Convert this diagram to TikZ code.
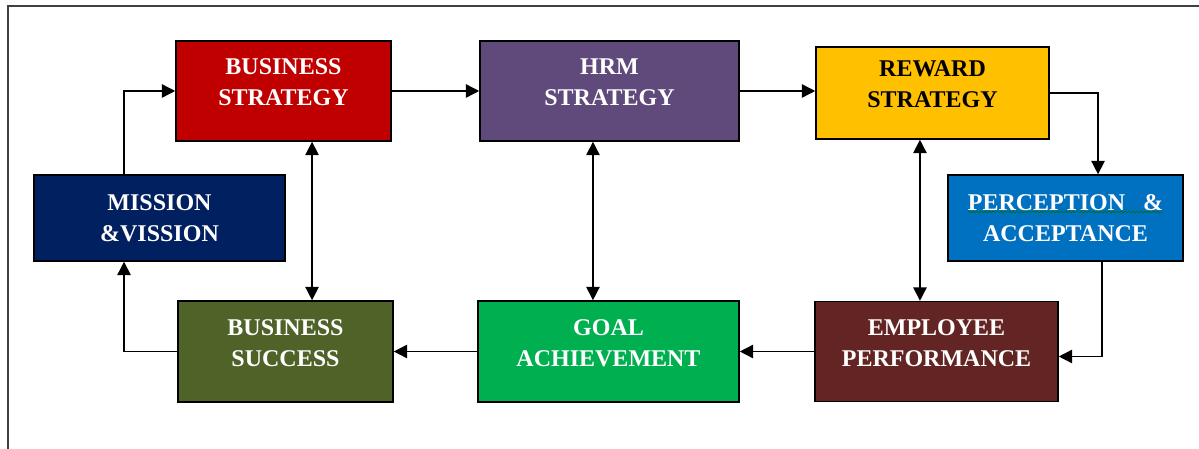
\documentclass[tikz,border=0pt]{standalone}
\usepackage{fontspec}
\setmainfont{Liberation Serif}
\usepackage{tikz}
\usetikzlibrary{arrows.meta,positioning,decorations.pathmorphing}

\tikzset{
  box/.style={draw=black,line width=1.1pt,inner sep=0pt,align=center,text=white,
    font=\fontsize{18}{23}\selectfont\bfseries},
  uptext/.style={text depth=13pt},
  arr/.style={line width=1.1pt,-{Triangle[length=10pt,width=10pt]}},
  dblarr/.style={line width=1.1pt,{Triangle[length=10pt,width=10pt]}-{Triangle[length=10pt,width=10pt]}}
}

\begin{document}
\begin{tikzpicture}[x=0.75pt,y=-0.75pt]
\definecolor{bsred}{HTML}{C00000}
\definecolor{hrmpurple}{HTML}{604A7B}
\definecolor{rewardgold}{HTML}{FFC000}
\definecolor{percblue}{HTML}{0070C0}
\definecolor{missionnavy}{HTML}{002060}
\definecolor{succolive}{HTML}{4F6228}
\definecolor{goalgreen}{HTML}{00B050}
\definecolor{empbrown}{HTML}{632523}

\useasboundingbox (0,0) rectangle (1199,449);
\draw[black!75,line width=0.9pt] (8,449) -- (8,6) -- (1199,6);

% boxes
\node[box,uptext,fill=bsred,minimum width=161.3pt,minimum height=75pt] (bstrat) at (283.5,91) {BUSINESS\\STRATEGY};
\node[box,uptext,fill=hrmpurple,minimum width=194.3pt,minimum height=75pt] (hrm) at (609.5,91) {HRM\\STRATEGY};
\node[box,uptext,fill=rewardgold,text=black,minimum width=174.8pt,minimum height=69pt] (reward) at (932.5,93) {REWARD\\STRATEGY};
\node[box,fill=percblue,minimum width=176.3pt,minimum height=64.5pt] (percep) at (1065.5,218) {PERCEPTION\hspace{0.75em}\&\\ACCEPTANCE};
\node[box,fill=missionnavy,minimum width=188.3pt,minimum height=64.5pt] (mission) at (159.5,218) {MISSION\\\&VISSION};
\node[box,uptext,fill=succolive,minimum width=161.3pt,minimum height=75.8pt] (success) at (285.5,351.5) {BUSINESS\\SUCCESS};
\node[box,uptext,fill=goalgreen,minimum width=195.8pt,minimum height=75.8pt] (goal) at (608.5,351.5) {GOAL\\ACHIEVEMENT};
\node[box,uptext,fill=empbrown,minimum width=182.3pt,minimum height=75pt] (employee) at (936.5,351.5) {EMPLOYEE\\PERFORMANCE};

% spell check mark
\draw[green!45!black,line width=0.5pt,decorate,decoration={snake,amplitude=0.6pt,segment length=3pt}] (968,212) -- (1162,212);

% cycle
\draw[arr] (bstrat.east) -- (hrm.west);
\draw[arr] (hrm.east) -- (hrm.east -| reward.west);
\draw[arr] (reward.east) -| ([xshift=24.4pt]percep.north);
\draw[arr] ([xshift=27.4pt]percep.south) |- ([yshift=-3.75pt]employee.east);
\draw[arr] (employee.west) -- (employee.west -| goal.east);
\draw[arr] (goal.west) -- (goal.west -| success.east);
\draw[arr] (success.west) -| ([xshift=-26.6pt]mission.south);
\draw[arr] ([xshift=-26.6pt]mission.north) |- (bstrat.west);

% two way links
\draw[dblarr] ([xshift=21.4pt]bstrat.south) coordinate (l1) -- (l1 |- success.north);
\draw[dblarr] ([xshift=-12.4pt]hrm.south) coordinate (l2) -- (l2 |- goal.north);
\draw[dblarr] ([xshift=-9.4pt]reward.south) coordinate (l3) -- (l3 |- employee.north);
\end{tikzpicture}
\end{document}
